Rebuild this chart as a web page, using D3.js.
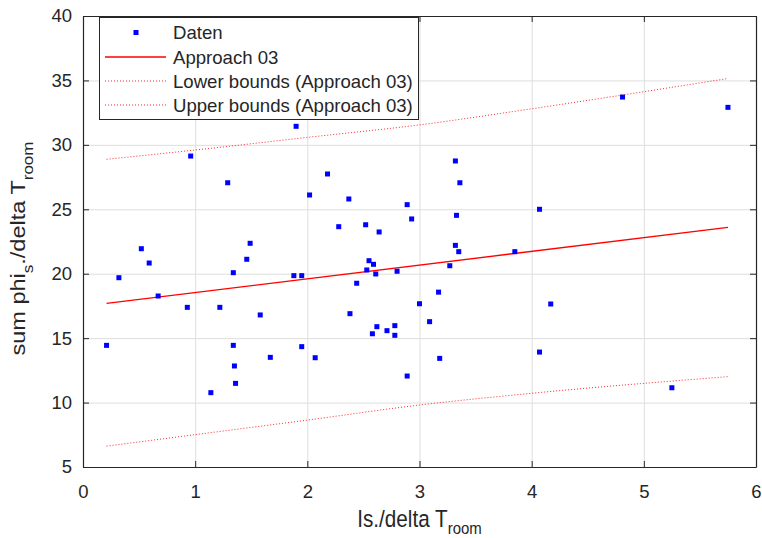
<!DOCTYPE html>
<html>
<head>
<meta charset="utf-8">
<script src="https://cdn.jsdelivr.net/npm/d3@7/dist/d3.min.js"></script>
<style>
  body { margin: 0; background: #fff; }
  text { font-family: "Liberation Sans", Arial, Helvetica, sans-serif; fill: #262626; }
</style>
</head>
<body>
<svg id="chart" width="762" height="538"></svg>
<script>
// Measured points
const xData = [0.21, 0.32, 0.52, 0.59, 0.67, 0.93, 0.96, 1.14, 1.22, 1.29,
               1.34, 1.34, 1.35, 1.36, 1.46, 1.49, 1.58, 1.67, 1.88, 1.90,
               1.95, 1.95, 2.02, 2.07, 2.18, 2.28, 2.37, 2.38, 2.44, 2.52,
               2.53, 2.55, 2.58, 2.59, 2.61, 2.62, 2.64, 2.71, 2.78, 2.78,
               2.80, 2.89, 2.89, 2.93, 3.00, 3.09, 3.17, 3.18, 3.27, 3.32,
               3.32, 3.33, 3.35, 3.36, 3.85, 4.07, 4.07, 4.17, 4.81, 5.25, 5.75];
const yData = [14.44, 19.69, 21.94, 20.83, 18.27, 17.39, 29.13, 10.77, 17.39, 27.06,
               20.08, 14.44, 12.84, 11.49, 21.12, 22.36, 16.80, 13.51, 19.85, 31.44,
               19.85, 14.34, 26.11, 13.48, 27.74, 23.65, 25.80, 16.90, 19.26, 23.80,
               20.29, 21.01, 15.34, 20.73, 19.98, 15.89, 23.24, 15.58, 15.97, 15.22,
               20.19, 25.36, 12.06, 24.25, 17.67, 16.28, 18.57, 13.43, 20.62, 28.75,
               22.20, 24.53, 21.71, 27.06, 21.71, 25.00, 13.92, 17.65, 33.71, 11.15, 32.91];

// Linear fit (Approach 03)
const fitX = [0.21, 5.75];
const fitY = [17.70, 23.60];

// Prediction bounds
const boundX = [0.21, 1.0, 2.0, 3.0, 4.0, 5.75];
const lowerY = [6.62, 7.51, 8.64, 9.81, 10.72, 12.01];
const upperY = [28.88, 29.60, 30.58, 31.55, 32.80, 35.15];

const xTicks = [0, 1, 2, 3, 4, 5, 6];
const yTicks = [5, 10, 15, 20, 25, 30, 35, 40];
const legendLabels = ["Daten", "Approach 03", "Lower bounds (Approach 03)", "Upper bounds (Approach 03)"];

const W = 762, H = 538;
const m = { left: 83, top: 16, right: 6, bottom: 71 };
const iw = W - m.left - m.right, ih = H - m.top - m.bottom;
const axisColor = "#262626", gridColor = "#dedede";
const tickLen = 6;
const labelSize = 23.5, subSize = 17, squeeze = 0.88;

const svg = d3.select("#chart");
svg.append("rect").attr("width", W).attr("height", H).attr("fill", "#fff");

const x = d3.scaleLinear().domain([0, 6]).range([m.left, m.left + iw]);
const y = d3.scaleLinear().domain([5, 40]).range([m.top + ih, m.top]);

// Grid
const grid = svg.append("g");
grid.selectAll("line.gx").data(xTicks.slice(1, -1)).join("line")
  .attr("x1", d => x(d) + 0.5).attr("x2", d => x(d) + 0.5)
  .attr("y1", m.top).attr("y2", m.top + ih)
  .attr("stroke", gridColor).attr("stroke-width", 1);
grid.selectAll("line.gy").data(yTicks.slice(1, -1)).join("line")
  .attr("y1", d => y(d) + 0.5).attr("y2", d => y(d) + 0.5)
  .attr("x1", m.left).attr("x2", m.left + iw)
  .attr("stroke", gridColor).attr("stroke-width", 1);

// Axes with inward ticks and mirrored top/right ticks
const xAxisB = d3.axisBottom(x).tickValues(xTicks).tickSizeInner(-tickLen).tickSizeOuter(0).tickPadding(18).tickFormat(d3.format("d"));
const xAxisT = d3.axisTop(x).tickValues(xTicks).tickSizeInner(-tickLen).tickSizeOuter(0).tickFormat("");
const yAxisL = d3.axisLeft(y).tickValues(yTicks).tickSizeInner(-tickLen).tickSizeOuter(0).tickPadding(11).tickFormat(d3.format("d"));
const yAxisR = d3.axisRight(y).tickValues(yTicks).tickSizeInner(-tickLen).tickSizeOuter(0).tickFormat("");

function styleAxis(g) {
  g.selectAll("path").attr("stroke", axisColor).attr("stroke-width", 1.2);
  g.selectAll("line").attr("stroke", axisColor).attr("stroke-width", 1);
  g.selectAll("text").attr("font-size", 18.5).attr("fill", axisColor)
    .attr("font-family", '"Liberation Sans", Arial, Helvetica, sans-serif');
}
svg.append("g").attr("transform", `translate(0,${m.top + ih})`).call(xAxisB).call(styleAxis);
svg.append("g").attr("transform", `translate(0,${m.top})`).call(xAxisT).call(styleAxis);
svg.append("g").attr("transform", `translate(${m.left},0)`).call(yAxisL).call(styleAxis);
svg.append("g").attr("transform", `translate(${m.left + iw},0)`).call(yAxisR).call(styleAxis);

// Bounds (dotted)
const boundLine = d3.line().x(d => x(d[0])).y(d => y(d[1])).curve(d3.curveMonotoneX);
const dotted = { stroke: "#ff0000", width: 1, dash: "1,2" };
[lowerY, upperY].forEach(arr => {
  svg.append("path")
    .attr("d", boundLine(boundX.map((v, i) => [v, arr[i]])))
    .attr("fill", "none").attr("stroke", dotted.stroke)
    .attr("stroke-width", dotted.width).attr("stroke-dasharray", dotted.dash)
    .attr("opacity", 0.85);
});

// Fit line
svg.append("path")
  .attr("d", d3.line().x(d => x(d[0])).y(d => y(d[1]))(fitX.map((v, i) => [v, fitY[i]])))
  .attr("fill", "none").attr("stroke", "#ff0000").attr("stroke-width", 1.3);

// Data points
const ms = 5;
svg.append("g").selectAll("rect").data(xData.map((v, i) => [v, yData[i]])).join("rect")
  .attr("x", d => x(d[0]) - ms / 2).attr("y", d => y(d[1]) - ms / 2)
  .attr("width", ms).attr("height", ms).attr("fill", "#0000ff");

// Axis labels (slightly narrowed glyphs)
const xl = svg.append("text")
  .attr("transform", `translate(${(m.left + m.left + iw) / 2},527) scale(${squeeze},1)`)
  .attr("text-anchor", "middle").attr("font-size", labelSize);
xl.append("tspan").text("Is./delta T");
xl.append("tspan").attr("font-size", subSize).attr("dy", 7).text("room");

const yl = svg.append("text")
  .attr("transform", `translate(25,248.5) scale(${squeeze},1) rotate(-90)`)
  .attr("text-anchor", "middle").attr("font-size", labelSize);
yl.append("tspan").text("sum phi");
yl.append("tspan").attr("font-size", subSize).attr("dy", 9).text("s");
yl.append("tspan").attr("dy", -9).text("./delta T");
yl.append("tspan").attr("font-size", subSize).attr("dy", 9).text("room");

// Legend
const lg = { x: 99, y: 17, w: 319, h: 102 };
const leg = svg.append("g");
leg.append("rect").attr("x", lg.x + 0.5).attr("y", lg.y + 0.5).attr("width", lg.w).attr("height", lg.h)
  .attr("fill", "#fff").attr("stroke", axisColor).attr("stroke-width", 1);
const rowY = [32.5, 57, 81, 105];
legendLabels.forEach((lab, i) => {
  const cy = rowY[i];
  if (i === 0) {
    leg.append("rect").attr("x", 136 - ms / 2).attr("y", cy - ms / 2)
      .attr("width", ms).attr("height", ms).attr("fill", "#0000ff");
  } else {
    const l = leg.append("line").attr("x1", 105).attr("x2", 166).attr("y1", cy).attr("y2", cy)
      .attr("stroke", "#ff0000");
    if (i === 1) l.attr("stroke-width", 1.3);
    else l.attr("stroke-width", dotted.width).attr("stroke-dasharray", dotted.dash).attr("opacity", 0.85);
  }
  leg.append("text").attr("x", 173).attr("y", cy).attr("dy", "0.35em")
    .attr("font-size", 18.6).text(lab);
});
</script>
</body>
</html>
